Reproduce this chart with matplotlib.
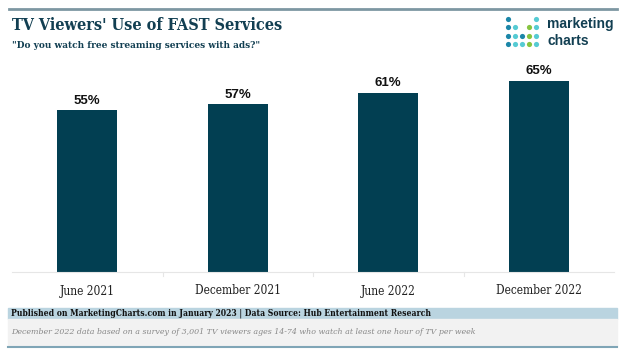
import matplotlib.pyplot as plt
from matplotlib.patches import Rectangle

# Data
periods = ["June 2021", "December 2021", "June 2022", "December 2022"]
shares = [55, 57, 61, 65]

bar_color = "#023f52"
title_color = "#123f52"
serif = ["DejaVu Serif"]
sans = ["Liberation Sans", "DejaVu Sans"]

W, H = 624, 354
fig = plt.figure(figsize=(W / 100, H / 100), dpi=100)


def fx(px):
    return px / W


def fy(py):
    return 1 - py / H


# Top rule
fig.add_artist(plt.Line2D([fx(9), fx(617)], [fy(9), fy(9)], color="#7d97a2", lw=2))

# Title / subtitle
fig.text(fx(12), fy(26), "TV Viewers' Use of FAST Services", family=serif,
         fontsize=11.6, fontweight="bold", fontstretch="condensed", color=title_color, va="center")
fig.text(fx(12), fy(45), "\"Do you watch free streaming services with ads?\"", family=serif,
         fontsize=7.2, fontweight="bold", fontstretch="condensed", color=title_color, va="center")

# Logo dots (pixel overlay)
lx = fig.add_axes([0, 0, 1, 1])
lx.set_xlim(0, W)
lx.set_ylim(H, 0)
lx.axis("off")
dot_cols = [508, 515, 522, 529, 536]
dot_rows = [19, 27, 36, 44]
c1, c2, c3 = "#1b86a8", "#55cbd3", "#86c440"
dot_map = [
    [c1, None, None, None, c2],
    [c1, c2, None, c3, c2],
    [c1, c2, c1, c3, c2],
    [c1, c2, c2, c3, c2],
]
for r, row in enumerate(dot_map):
    for c, col in enumerate(row):
        if col:
            lx.scatter(dot_cols[c], dot_rows[r], s=14, color=col, linewidths=0)
fig.text(fx(547), fy(24), "marketing", family=sans, fontsize=10, fontweight="bold",
         color=title_color, va="center")
fig.text(fx(547), fy(41), "charts", family=sans, fontsize=10, fontweight="bold",
         color=title_color, va="center")

# Bars
ax = fig.add_axes([fx(12), fy(272), fx(614) - fx(12), (272 - 70) / H])
x = range(len(periods))
bars = ax.bar(x, shares, width=0.4, color=bar_color)
ax.set_xlim(-0.5, len(periods) - 0.5)
ax.set_ylim(0, 202 / 2.94)
for b, v in zip(bars, shares):
    ax.text(b.get_x() + b.get_width() / 2, v + 1.2, f"{v}%", ha="center", va="bottom",
            family=sans, fontsize=9.5, fontweight="bold", color="#111111")
ax.set_xticks(list(x))
ax.set_xticklabels(periods, family=serif, fontstretch="condensed", fontsize=8.6, color="#222222")
ax.tick_params(axis="x", length=0, pad=9)
ax.set_yticks([])
for s in ["top", "right", "left"]:
    ax.spines[s].set_visible(False)
ax.spines["bottom"].set_color("#e6e6e6")
for xs in [0.5, 1.5, 2.5]:
    ax.plot([xs, xs], [0, -1.2], color="#e6e6e6", lw=0.8, clip_on=False)

# Footer
fig.add_artist(Rectangle((fx(8), fy(319)), fx(617) - fx(8), 11 / H, color="#bad4e0",
                         transform=fig.transFigure))
fig.add_artist(Rectangle((fx(8), fy(346)), fx(617) - fx(8), 27 / H, color="#f2f2f2",
                         transform=fig.transFigure))
fig.add_artist(plt.Line2D([fx(8), fx(617)], [fy(346.5), fy(346.5)], color="#7fa5b6", lw=1.5))
fig.text(fx(11), fy(313.5), "Published on MarketingCharts.com in January 2023 | Data Source: Hub Entertainment Research",
         family=serif, fontstretch="condensed", fontsize=6.15, fontweight="bold", color="#111111", va="center")
fig.text(fx(11), fy(332), "December 2022 data based on a survey of 3,001 TV viewers ages 14-74 who watch at least one hour of TV per week",
         family=serif, fontsize=5.65, style="italic", color="#888888", va="center")

fig.savefig("out.png", dpi=100, facecolor="white")
